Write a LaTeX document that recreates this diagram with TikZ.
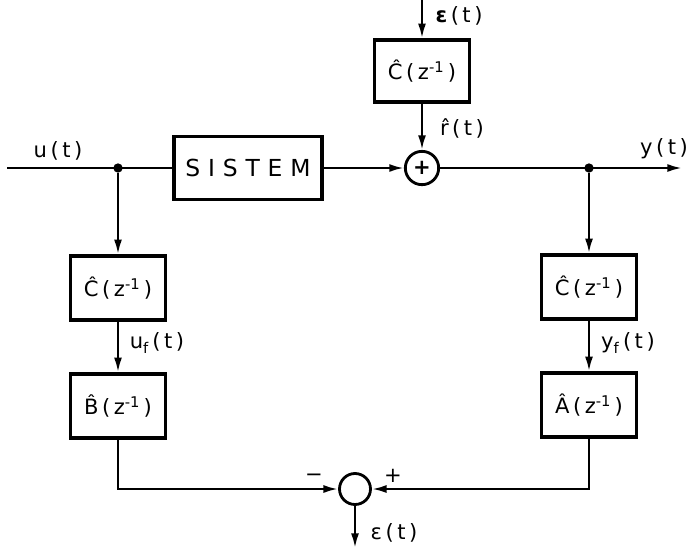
\documentclass[tikz,border=0pt]{standalone}
\usepackage{fontspec}
\setmainfont{DejaVu Sans}
\usetikzlibrary{arrows.meta,positioning,calc}

\newcommand{\hz}[1]{\^{#1}\,(\,z\textsuperscript{-1}\,)}

\begin{document}
\begin{tikzpicture}[
    x=0.03cm, y=-0.03cm,
    font=\fontsize{18}{21}\selectfont,
    blok/.style={
        rectangle,
        draw,
        line width=3pt,
        minimum width=2.85cm,
        minimum height=1.92cm,
        inner sep=0pt
    },
    sumcirc/.style={
        circle,
        draw,
        line width=2.4pt,
        minimum size=#1,
        inner sep=0pt
    },
    junct/.style={
        circle,
        fill,
        minimum size=0.28cm,
        inner sep=0pt
    },
    arrow/.style={
        -{Latex[length=4.4mm,width=2.4mm]},
        line width=2pt
    },
    wire/.style={
        line width=2pt
    },
    lbl/.style={
        inner sep=1pt
    }
]

\useasboundingbox (0,0) rectangle (691,548);

% =====================================================
% Forward path
% =====================================================

\coordinate (uin) at (7,168);
\node[junct] (j1) at (118,168) {};
\node[blok, minimum width=4.44cm, minimum height=1.89cm,
      font=\fontsize{20}{24}\selectfont] (sistem) at (248,168)
{S\,\,I\,\,S\,\,T\,\,E\,\,M};
\node[sumcirc=1cm, font=\fontsize{18}{21}\bfseries] (sum1) at (422,168) {+};
\node[junct] (j2) at (589,168) {};
\coordinate (yout) at (682,168);

% noise filter on top
\coordinate (xiin) at (422,0);
\node[blok, minimum height=1.86cm] (ctop) at (422,71) {\hz{C}};

% =====================================================
% Filter columns
% =====================================================

\node[blok] (cleft) at (118,288) {\hz{C}};
\node[blok] (bleft) at (118,406) {\hz{B}};

\node[blok] (cright) at (589,287) {\hz{C}};
\node[blok] (aright) at (589,405) {\hz{A}};

\node[sumcirc=0.93cm] (sum2) at (355,489) {};
\coordinate (epsout) at (355,548);

% =====================================================
% Connectors
% =====================================================

\draw[wire] (uin) -- (sistem);
\draw[arrow] (sistem) -- (sum1);
\draw[arrow] (xiin) -- (ctop);
\draw[arrow] (ctop) -- (sum1);
\draw[arrow] (sum1) -- (yout);

\draw[arrow] (j1) -- (cleft);
\draw[arrow] (cleft) -- (bleft);
\draw[arrow] (j2) -- (cright);
\draw[arrow] (cright) -- (aright);

\draw[arrow] (bleft) |- (sum2);
\draw[arrow] (aright) |- (sum2);
\draw[arrow] (sum2) -- (epsout);

% =====================================================
% Signal labels
% =====================================================

\node[lbl] (ulbl) at (58,151) {u\,(\,t\,)};
\node[lbl] (ylbl) at (664,149) {y\,(\,t\,)};
\node[lbl] (xilbl) at (459,16) {\textbf{ε}\,(\,t\,)};
\node[lbl] (rlbl) at (462,128) {\^{r}\,(\,t\,)};
\node[lbl] (uflbl) at (157,343) {u\textsubscript{f}\,(\,t\,)};
\node[lbl] (yflbl) at (628,343) {y\textsubscript{f}\,(\,t\,)};
\node[lbl] (minus) at (314,478) {−};
\node[lbl] (plus) at (393,476) {+};
\node[lbl] (epslbl) at (394,533) {ε\,(\,t\,)};

\end{tikzpicture}
\end{document}
